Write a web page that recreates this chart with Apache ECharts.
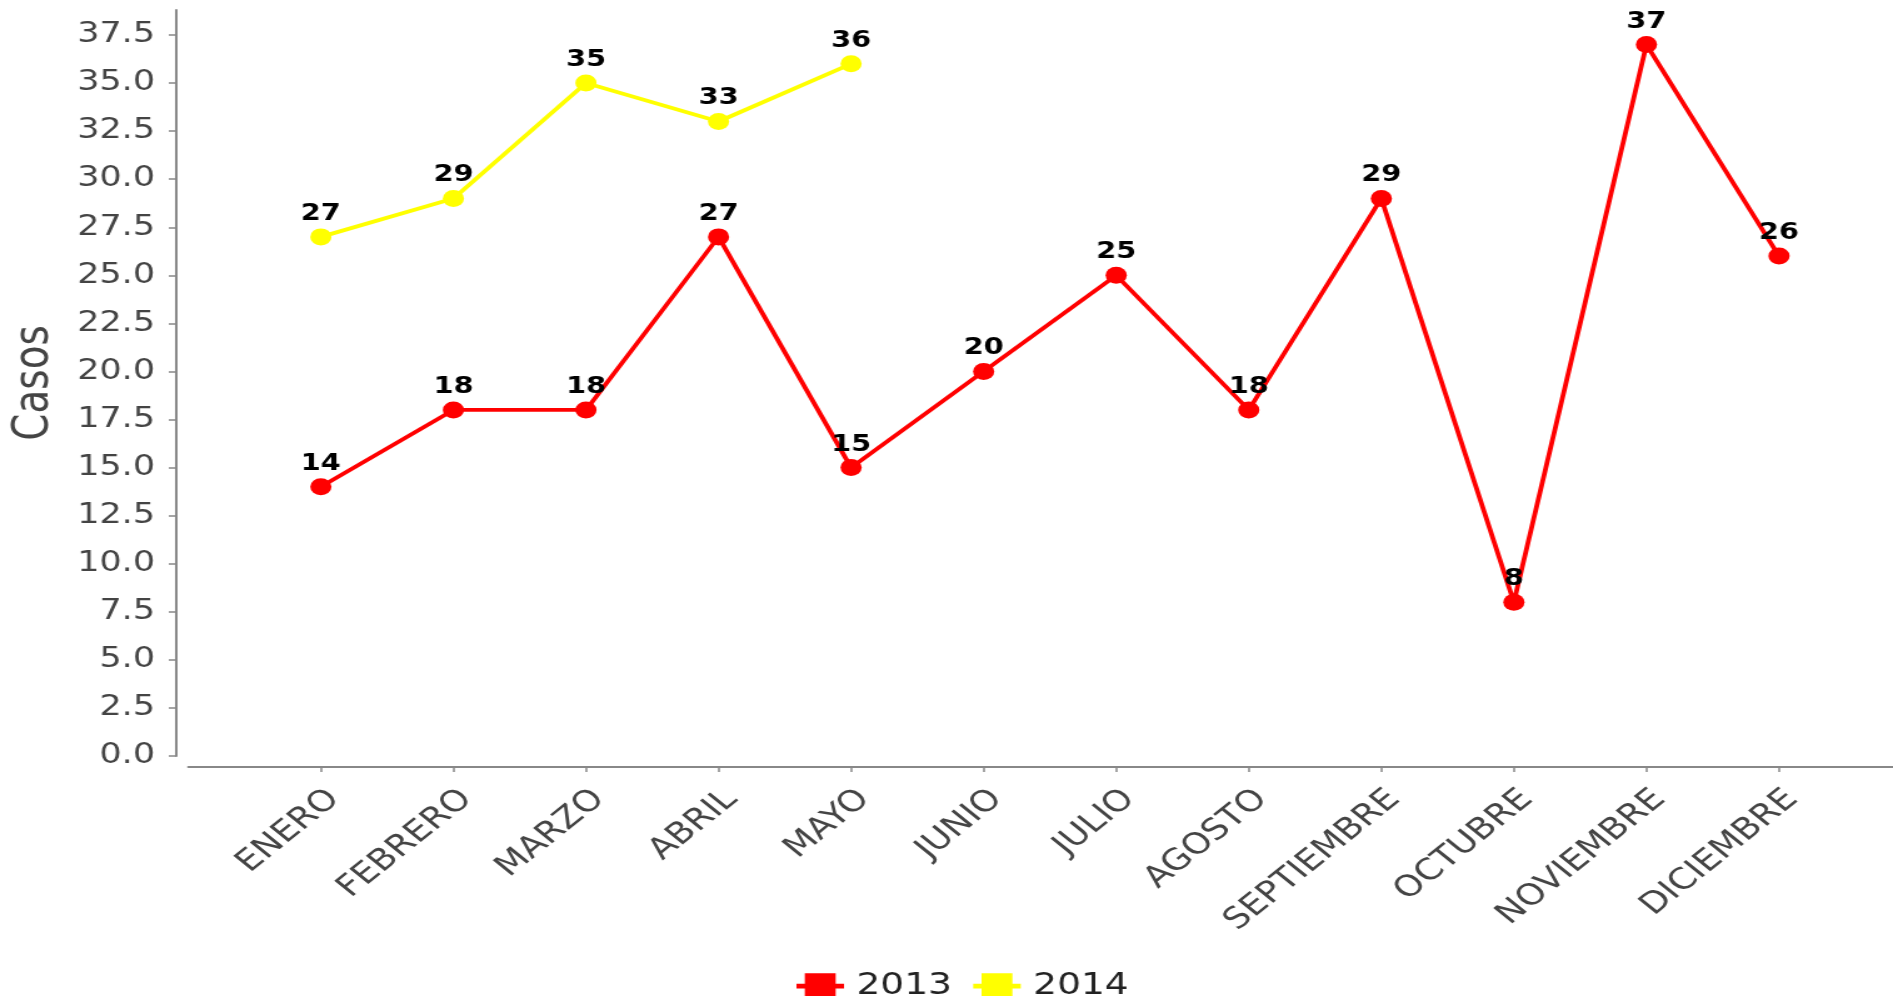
<!DOCTYPE html>
<html>
<head>
<meta charset="utf-8">
<script src="https://cdn.jsdelivr.net/npm/echarts@6/dist/echarts.min.js"></script>
<style>
html,body{margin:0;padding:0;background:#fff;overflow:hidden;}
#chart{width:1514px;height:996px;transform:scaleX(1.25033);transform-origin:0 0;}
</style>
</head>
<body>
<div id="chart"></div>
<script>
// ---- data ----
const months = ['ENERO','FEBRERO','MARZO','ABRIL','MAYO','JUNIO','JULIO','AGOSTO','SEPTIEMBRE','OCTUBRE','NOVIEMBRE','DICIEMBRE'];
const casos2013 = [14,18,18,27,15,20,25,18,29,8,37,26];
const casos2014 = [27,29,35,33,36];
const yTicks = [0,2.5,5,7.5,10,12.5,15,17.5,20,22.5,25,27.5,30,32.5,35,37.5];
const seriesNames = ['2013','2014'];
const seriesColors = ['#ff0000','#ffff00'];
const yName = 'Casos';

const monthIdx = months.map((m,i)=>i);
const toPoints = arr => arr.map((v,i)=>[i,v]);
const FONT = 'DejaVu Sans';
const legendIcon = 'path://M0,11 L7,11 L7,0 L33,0 L33,11 L40,11 L40,16 L33,16 L33,27 L7,27 L7,16 L0,16 Z';

const chart = echarts.init(document.getElementById('chart'), null, {renderer:'canvas'});
const mkSeries = (name, data, color) => ({
  name: name,
  type: 'line',
  data: toPoints(data),
  symbol: 'circle',
  symbolSize: 17,
  color: color,
  lineStyle: {color: color, width: 3.8},
  itemStyle: {color: color},
  label: {show: true, position: 'top', distance: 3, color: '#000', fontFamily: FONT, fontWeight: 'bold', fontSize: 23,
          formatter: p => String(p.value[1])},
  emphasis: {disabled: true},
  z: 3
});

chart.setOption({
  animation: false,
  backgroundColor: '#fff',
  textStyle: {fontFamily: FONT},
  grid: {left: 149.5, right: 0, top: 10, bottom: 240, containLabel: false},
  legend: {
    left: 632, top: 966, itemWidth: 38, itemHeight: 27, itemGap: 17,
    data: seriesNames.map(n => ({name: n, icon: legendIcon})),
    textStyle: {fontFamily: FONT, fontSize: 30, color: '#222', padding: [0,0,0,5]}
  },
  xAxis: {
    type: 'value', min: -1, max: 11.86, offset: 11,
    splitLine: {show: false},
    axisLine: {show: true, onZero: false, lineStyle: {color: '#888', width: 2}},
    axisTick: {show: true, length: 5, customValues: monthIdx, lineStyle: {color: '#888', width: 1.5}},
    axisLabel: {customValues: monthIdx, rotate: 45, margin: 17, verticalAlign: 'top', fontFamily: FONT, fontSize: 29.5, color: '#444',
                formatter: v => months[Math.round(v)] || ''}
  },
  yAxis: {
    type: 'value', min: 0, max: 38.8, interval: 2.5, offset: 9.6,
    name: yName, nameLocation: 'middle', nameGap: 94, nameRotate: 90,
    nameTextStyle: {fontFamily: FONT, fontSize: 39, color: '#444'},
    splitLine: {show: false},
    axisLine: {show: true, onZero: false, lineStyle: {color: '#888', width: 2}},
    axisTick: {show: true, length: 6, customValues: yTicks, lineStyle: {color: '#888', width: 1.5}},
    axisLabel: {customValues: yTicks, showMaxLabel: true, margin: 17, fontFamily: FONT, fontSize: 28, color: '#444',
                formatter: v => Number(v).toFixed(1)}
  },
  series: [
    mkSeries(seriesNames[0], casos2013, seriesColors[0]),
    mkSeries(seriesNames[1], casos2014, seriesColors[1])
  ]
});
</script>
</body>
</html>
